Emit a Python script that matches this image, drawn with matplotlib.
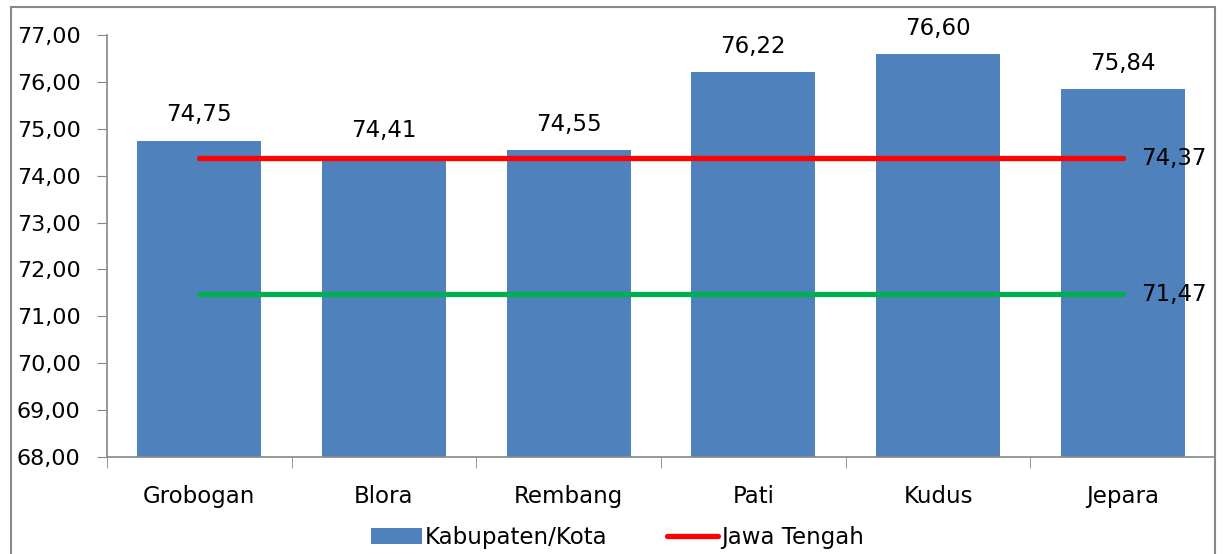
import matplotlib.pyplot as plt
from matplotlib.patches import Rectangle

categories = ["Grobogan", "Blora", "Rembang", "Pati", "Kudus", "Jepara"]
values = [74.75, 74.41, 74.55, 76.22, 76.60, 75.84]
jateng = 74.37
nasional = 71.47


def fmt(v):
    return f"{v:.2f}".replace(".", ",")


fig = plt.figure(figsize=(12.24, 5.54), dpi=100)
ax = fig.add_axes([107 / 1224, 1 - 457 / 554, (1215 - 107) / 1224, (457 - 35) / 554])

x = list(range(len(categories)))
bars = ax.bar(x, values, width=0.67, bottom=0, color="#4f81bd", label="Kabupaten/Kota", zorder=2)
line, = ax.plot([x[0], x[-1]], [jateng] * 2, color="#ff0000", lw=3.8, solid_capstyle="round",
                label="Jawa Tengah", zorder=3)
ax.plot([x[0], x[-1]], [nasional] * 2, color="#00b050", lw=3.8, solid_capstyle="round", zorder=3)

for xi, v in zip(x, values):
    ax.text(xi, v + 0.3, fmt(v), ha="center", va="bottom", fontsize=16.5)
ax.text(x[-1] + 0.1, jateng, fmt(jateng), ha="left", va="center", fontsize=16.5)
ax.text(x[-1] + 0.1, nasional, fmt(nasional), ha="left", va="center", fontsize=16.5)

ax.set_ylim(68, 77)
ax.set_xlim(-0.5, len(categories) - 0.5)
ax.set_yticks(range(68, 78))
ax.set_yticklabels([fmt(t) for t in range(68, 78)], fontsize=16)
ax.set_xticks(x)
ax.set_xticklabels(categories, fontsize=16.5)
ax.set_xticks([i - 0.5 for i in range(len(categories) + 1)], minor=True)
ax.tick_params(axis="x", which="major", length=0, pad=20)
ax.tick_params(axis="x", which="minor", length=8, color="#888888")
ax.tick_params(axis="y", length=7, color="#888888", pad=12)
for s in ["top", "right"]:
    ax.spines[s].set_visible(False)
for s in ["left", "bottom"]:
    ax.spines[s].set_color("#888888")
    ax.spines[s].set_linewidth(1.2)

ax.legend([bars, line], ["Kabupaten/Kota", "Jawa Tengah"], loc="center",
          bbox_to_anchor=(0.461, -0.19), ncol=2, frameon=False, fontsize=16.5,
          handlelength=2.2, handletextpad=0.15, columnspacing=2.6)

fig.patches.append(Rectangle((11 / 1224, -0.01), (1215 - 11) / 1224, 1 - 7 / 554 + 0.01,
                             transform=fig.transFigure, fill=False, edgecolor="#888888", lw=1.5))

fig.savefig("out.png", dpi=100)
